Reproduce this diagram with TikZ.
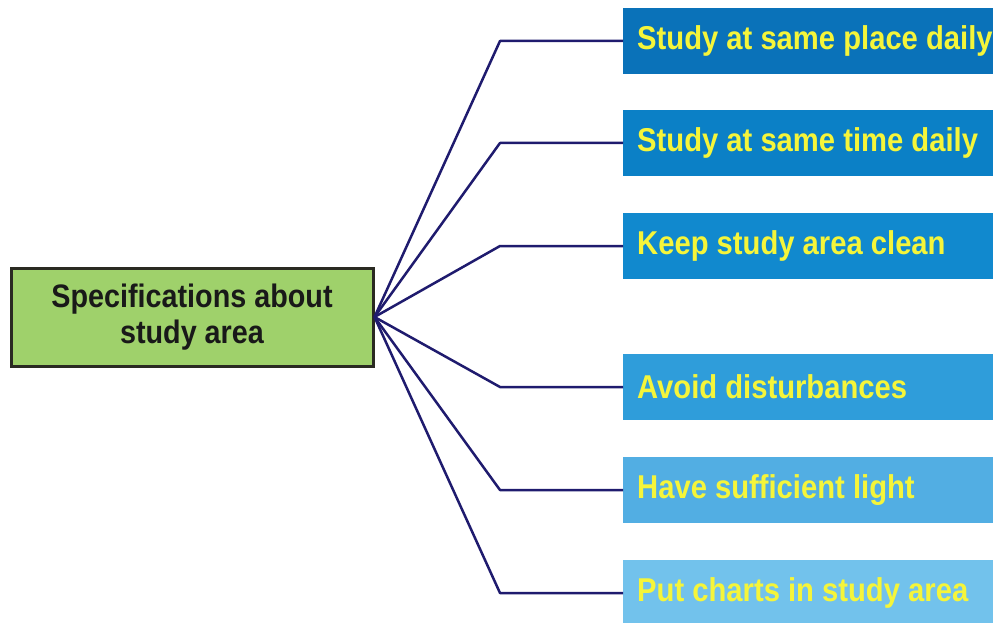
\documentclass[tikz,border=0pt]{standalone}
\usepackage{fontspec}
\setmainfont{Liberation Sans}
\newfontfamily\boxfont[FakeStretch=0.885]{Liberation Sans}
\definecolor{linkblue}{HTML}{1F1B6E}
\definecolor{rootgreen}{HTML}{9FD16B}
\definecolor{rootedge}{HTML}{2A2A22}
\definecolor{labelyellow}{HTML}{F5F53A}
\definecolor{tipA}{HTML}{0A72B9}
\definecolor{tipB}{HTML}{0B80C6}
\definecolor{tipC}{HTML}{1189CE}
\definecolor{tipD}{HTML}{2F9DDA}
\definecolor{tipE}{HTML}{52AEE3}
\definecolor{tipF}{HTML}{72C2EC}
\begin{document}
\begin{tikzpicture}[x=1pt,y=-1pt,
  rootbox/.style={draw=rootedge, line width=3pt, fill=rootgreen,
    minimum width=362pt, minimum height=98pt, inner sep=0pt,
    align=center, text=black!90,
    font=\boxfont\bfseries\fontsize{32.5}{36}\selectfont},
  tipbox/.style={anchor=west, fill=#1, minimum height=66pt,
    text width=380pt, inner xsep=14pt, inner ysep=0pt, align=flush left,
    text=labelyellow, font=\boxfont\bfseries\fontsize{33}{38}\selectfont},
  link/.style={draw=linkblue, line width=2.5pt, line join=round}]
  \useasboundingbox (0,0) rectangle (993,623);

  % central topic
  \node[rootbox] (root) at (192,317) {Specifications about\\study area};

  % the six advice boxes
  \node[tipbox=tipA] (t1) at (623,41)  {Study at same place daily};
  \node[tipbox=tipB] (t2) at (623,143) {Study at same time daily};
  \node[tipbox=tipC] (t3) at (623,246) {Keep study area clean};
  \node[tipbox=tipD] (t4) at (623,387) {Avoid disturbances};
  \node[tipbox=tipE] (t5) at (623,490) {Have sufficient light};
  \node[tipbox=tipF] (t6) at (623,593) {Put charts in study area};

  % fan of connectors with an elbow before each box
  \foreach \t in {t1,t2,t3,t4,t5,t6}
    \draw[link] (root.east) -- ([xshift=-123pt]\t.west) -- (\t.west);
\end{tikzpicture}
\end{document}
